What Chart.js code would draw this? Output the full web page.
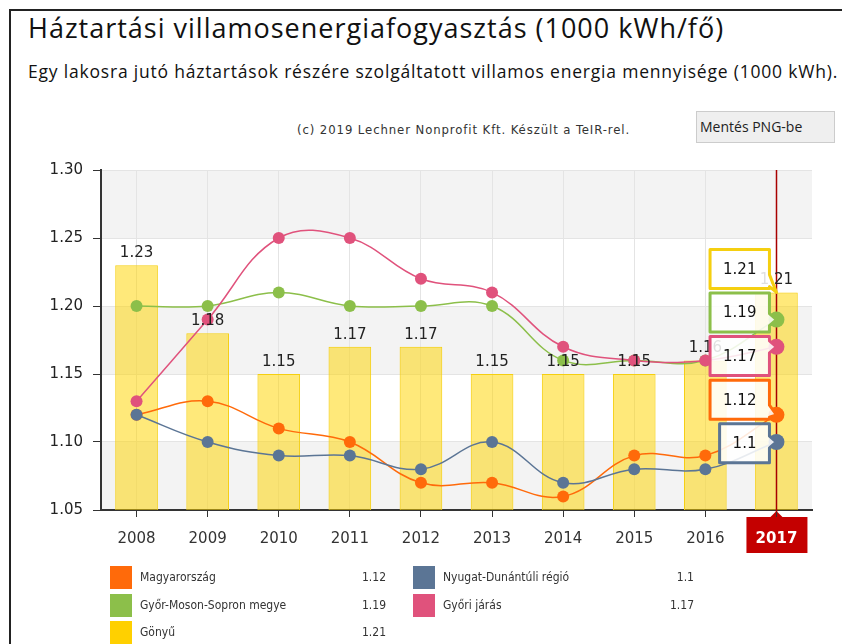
<!DOCTYPE html>
<html lang="hu">
<head>
<meta charset="utf-8">
<title>Háztartási villamosenergiafogyasztás</title>
<script src="https://cdn.jsdelivr.net/npm/chart.js@4.4.1/dist/chart.umd.min.js"></script>
<style>
  body { margin: 0; width: 842px; height: 644px; overflow: hidden; background: #fff; position: relative; font-family: 'DejaVu Sans', sans-serif; color: #222; }
  .frame { position: absolute; left: 9px; top: 9px; width: 900px; height: 700px; border-left: 2px solid #222; border-top: 2px solid #222; }
  h1 { position: absolute; left: 28px; top: 9px; margin: 0; font: normal 27px 'Open Sans', sans-serif; letter-spacing: 1px; color: #111; white-space: nowrap; }
  .sub { position: absolute; left: 28px; top: 59px; font: 17.5px 'Open Sans', sans-serif; letter-spacing: 0.8px; color: #111; white-space: nowrap; }
  .credit { position: absolute; left: 297px; top: 122px; font: 13px 'DejaVu Sans Condensed', sans-serif; letter-spacing: 0.9px; color: #333; white-space: nowrap; }
  .btn { position: absolute; left: 696px; top: 111px; width: 139px; height: 32px; background: #efefef; border: 1px solid #ccc; box-sizing: border-box; font: 14px 'Open Sans', sans-serif; line-height: 30px; padding-left: 3px; color: #222; }
  #wrap { position: absolute; left: 0; top: 160px; }
  .leg { position: absolute; height: 23px; font: 12px 'DejaVu Sans Condensed', sans-serif; color: #333; }
  .leg i { position: absolute; left: 0; top: 0; width: 22px; height: 23px; }
  .leg span { position: absolute; left: 30px; top: 4px; white-space: nowrap; }
  .leg b { position: absolute; right: 0; top: 4px; font-weight: normal; }
</style>
</head>
<body>
<div class="frame"></div>
<h1>Háztartási villamosenergiafogyasztás (1000 kWh/fő)</h1>
<div class="sub">Egy lakosra jutó háztartások részére szolgáltatott villamos energia mennyisége (1000 kWh).</div>
<div class="credit">(c) 2019 Lechner Nonprofit Kft. Készült a TeIR-rel.</div>
<div class="btn">Mentés PNG-be</div>
<div id="wrap"><canvas id="chart" width="842" height="410"></canvas></div>
<div id="legend"></div>
<script>
// évek és sorozatok (1000 kWh/fő)
const years = ['2008', '2009', '2010', '2011', '2012', '2013', '2014', '2015', '2016', '2017'];
const magyarorszag = [1.12, 1.13, 1.11, 1.10, 1.07, 1.07, 1.06, 1.09, 1.09, 1.12];
const nyugatDunantul = [1.12, 1.10, 1.09, 1.09, 1.08, 1.10, 1.07, 1.08, 1.08, 1.10];
const gyorMosonSopron = [1.20, 1.20, 1.21, 1.20, 1.20, 1.20, 1.16, 1.16, 1.16, 1.19];
const gyoriJaras = [1.13, 1.19, 1.25, 1.25, 1.22, 1.21, 1.17, 1.16, 1.16, 1.17];
const gonyu = [1.23, 1.18, 1.15, 1.17, 1.17, 1.15, 1.15, 1.15, 1.16, 1.21];
const yTicks = [1.05, 1.10, 1.15, 1.20, 1.25, 1.30];

const selected = years.length - 1; // kiemelt év: 2017

const colors = {
  magyar: '#ff6a0a',
  nyugat: '#5b7595',
  gyms: '#8cbf4a',
  jaras: '#e0527c',
  gonyu: '#ffd000'
};

function lineSet(label, data, color, order) {
  return {
    type: 'line', label, data, order,
    borderColor: color, backgroundColor: color,
    borderWidth: 1.5, tension: 0.4,
    pointRadius: data.map((v, i) => i === selected ? 8 : 6),
    pointBorderWidth: 0, pointHoverRadius: 8
  };
}

const datasets = [
  lineSet('Magyarország', magyarorszag, colors.magyar, 4),
  lineSet('Nyugat-Dunántúli régió', nyugatDunantul, colors.nyugat, 3),
  lineSet('Győr-Moson-Sopron megye', gyorMosonSopron, colors.gyms, 2),
  lineSet('Győri járás', gyoriJaras, colors.jaras, 1),
  {
    type: 'bar', label: 'Gönyű', data: gonyu, order: 10,
    backgroundColor: 'rgba(255, 212, 0, 0.52)',
    borderColor: '#f5cf10', borderWidth: 1,
    barPercentage: 0.75, categoryPercentage: 0.8
  }
];
const barIndex = 4;

// sávos háttér, 2017-es címke doboza
const backdrop = {
  id: 'backdrop',
  beforeDraw(chart) {
    const { ctx, chartArea: a, scales: { x, y } } = chart;
    ctx.save();
    for (let i = 0; i < yTicks.length - 1; i++) {
      if (i % 2 !== 0) continue;
      const top = y.getPixelForValue(yTicks[i + 1]);
      const bottom = y.getPixelForValue(yTicks[i]);
      ctx.fillStyle = '#f3f3f3';
      ctx.fillRect(a.left, top, a.right - a.left, bottom - top);
    }
    const cx = x.getPixelForValue(selected);
    const bt = a.bottom + 7;
    ctx.fillStyle = '#c40000';
    ctx.fillRect(cx - 30, bt, 61, 36);
    ctx.beginPath();
    ctx.moveTo(cx - 6, bt);
    ctx.lineTo(cx, bt - 6);
    ctx.lineTo(cx + 6, bt);
    ctx.fill();
    ctx.restore();
  },
  afterDatasetDraw(chart, args) {
    if (args.index !== barIndex) return;
    const { ctx, chartArea: a, scales: { x } } = chart;
    const cx = Math.round(x.getPixelForValue(selected)) + 0.5;
    ctx.save();
    ctx.strokeStyle = '#a80000';
    ctx.lineWidth = 1.5;
    ctx.beginPath();
    ctx.moveTo(cx, a.top);
    ctx.lineTo(cx, a.bottom + 2);
    ctx.stroke();
    ctx.restore();
  }
};

// oszlopok feletti értékek
const barLabels = {
  id: 'barLabels',
  afterDatasetsDraw(chart) {
    const { ctx } = chart;
    const meta = chart.getDatasetMeta(barIndex);
    ctx.save();
    ctx.font = '15px "DejaVu Sans"';
    ctx.fillStyle = '#222';
    ctx.textAlign = 'center';
    ctx.textBaseline = 'alphabetic';
    meta.data.forEach((bar, i) => {
      ctx.fillText(String(gonyu[i]), bar.x, bar.y - 8);
    });
    ctx.restore();
  }
};

// a kiemelt év értékei, buborékokban
const callouts = {
  id: 'callouts',
  afterDraw(chart) {
    const { ctx } = chart;
    const h = 39, step = 43.5;
    const items = chart.data.datasets.map((ds, i) => {
      const el = chart.getDatasetMeta(i).data[selected];
      return { value: ds.data[selected], color: ds.borderColor, px: el.x, py: el.y, c: el.y - 7 };
    }).sort((a, b) => a.c - b.c);

    // egymásra lógó dobozok csoportosítása
    let groups = items.map(it => ({ m: [it] }));
    const place = g => {
      const mean = g.m.reduce((s, it) => s + it.c, 0) / g.m.length;
      g.start = mean - (g.m.length - 1) * step / 2;
    };
    groups.forEach(place);
    let merged = true;
    while (merged) {
      merged = false;
      for (let i = 1; i < groups.length; i++) {
        const prev = groups[i - 1], cur = groups[i];
        if (prev.start + prev.m.length * step > cur.start) {
          prev.m = prev.m.concat(cur.m);
          place(prev);
          groups.splice(i, 1);
          merged = true;
          break;
        }
      }
    }

    ctx.save();
    ctx.font = '15px "DejaVu Sans"';
    groups.forEach(g => g.m.forEach((it, k) => {
      const cy = g.start + k * step;
      const label = String(it.value);
      const w = ctx.measureText(label).width + 26;
      const right = it.px - 7, left = right - w;
      const top = cy - h / 2, bottom = cy + h / 2;
      const wy = Math.min(Math.max(it.py, top + 8), bottom - 8);
      ctx.beginPath();
      ctx.moveTo(left, top);
      ctx.lineTo(right, top);
      ctx.lineTo(right, wy - 6);
      ctx.lineTo(it.px, it.py);
      ctx.lineTo(right, wy + 6);
      ctx.lineTo(right, bottom);
      ctx.lineTo(left, bottom);
      ctx.closePath();
      ctx.fillStyle = 'rgba(255, 255, 255, 0.86)';
      ctx.fill();
      ctx.lineWidth = 3;
      ctx.lineJoin = 'round';
      ctx.strokeStyle = it.color;
      ctx.stroke();
      ctx.fillStyle = '#111';
      ctx.textAlign = 'center';
      ctx.textBaseline = 'middle';
      ctx.fillText(label, (left + right) / 2, cy + 1);
    }));
    ctx.restore();
  }
};

new Chart(document.getElementById('chart'), {
  data: { labels: years, datasets },
  options: {
    responsive: false,
    animation: false,
    layout: { padding: { top: 10, right: 30, left: 0, bottom: 0 } },
    plugins: { legend: { display: false }, tooltip: { enabled: false } },
    scales: {
      x: {
        offset: true,
        grid: { offset: false, color: '#e4e4e4', tickColor: '#333', tickLength: 7 },
        border: { color: '#333', width: 2 },
        ticks: {
          padding: 13,
          color: ctx => ctx.index === selected ? '#fff' : '#333',
          font: ctx => ({ family: 'DejaVu Sans', size: 15, weight: ctx.index === selected ? 'bold' : 'normal' })
        },
        afterFit(scale) {
          scale.height = 60;
          scale.paddingLeft = 0;
          scale.paddingRight = 0;
        }
      },
      y: {
        min: yTicks[0],
        max: yTicks[yTicks.length - 1],
        afterBuildTicks(scale) { scale.ticks = yTicks.map(v => ({ value: v })); },
        grid: { color: '#e4e4e4', tickColor: '#333', tickLength: 8 },
        border: { color: '#333', width: 2 },
        ticks: {
          padding: 10,
          color: '#222',
          font: { family: 'DejaVu Sans', size: 15 },
          callback: v => Number(v).toFixed(2)
        },
        afterFit(scale) {
          scale.width = 101;
          scale.paddingTop = 0;
          scale.paddingBottom = 0;
        }
      }
    }
  },
  plugins: [backdrop, barLabels, callouts]
});

// jelmagyarázat a kiemelt év értékeivel
const legend = document.getElementById('legend');
const legendCols = [{ left: 110, width: 276 }, { left: 413, width: 281 }];
datasets.forEach((ds, i) => {
  const col = legendCols[i % 2], row = Math.floor(i / 2);
  const item = document.createElement('div');
  item.className = 'leg';
  item.style.left = col.left + 'px';
  item.style.width = col.width + 'px';
  item.style.top = (566 + row * 27.5) + 'px';
  const sw = document.createElement('i');
  sw.style.background = ds.type === 'bar' ? colors.gonyu : ds.borderColor;
  const name = document.createElement('span');
  name.textContent = ds.label;
  const val = document.createElement('b');
  val.textContent = String(ds.data[selected]);
  item.append(sw, name, val);
  legend.appendChild(item);
});
</script>
</body>
</html>
